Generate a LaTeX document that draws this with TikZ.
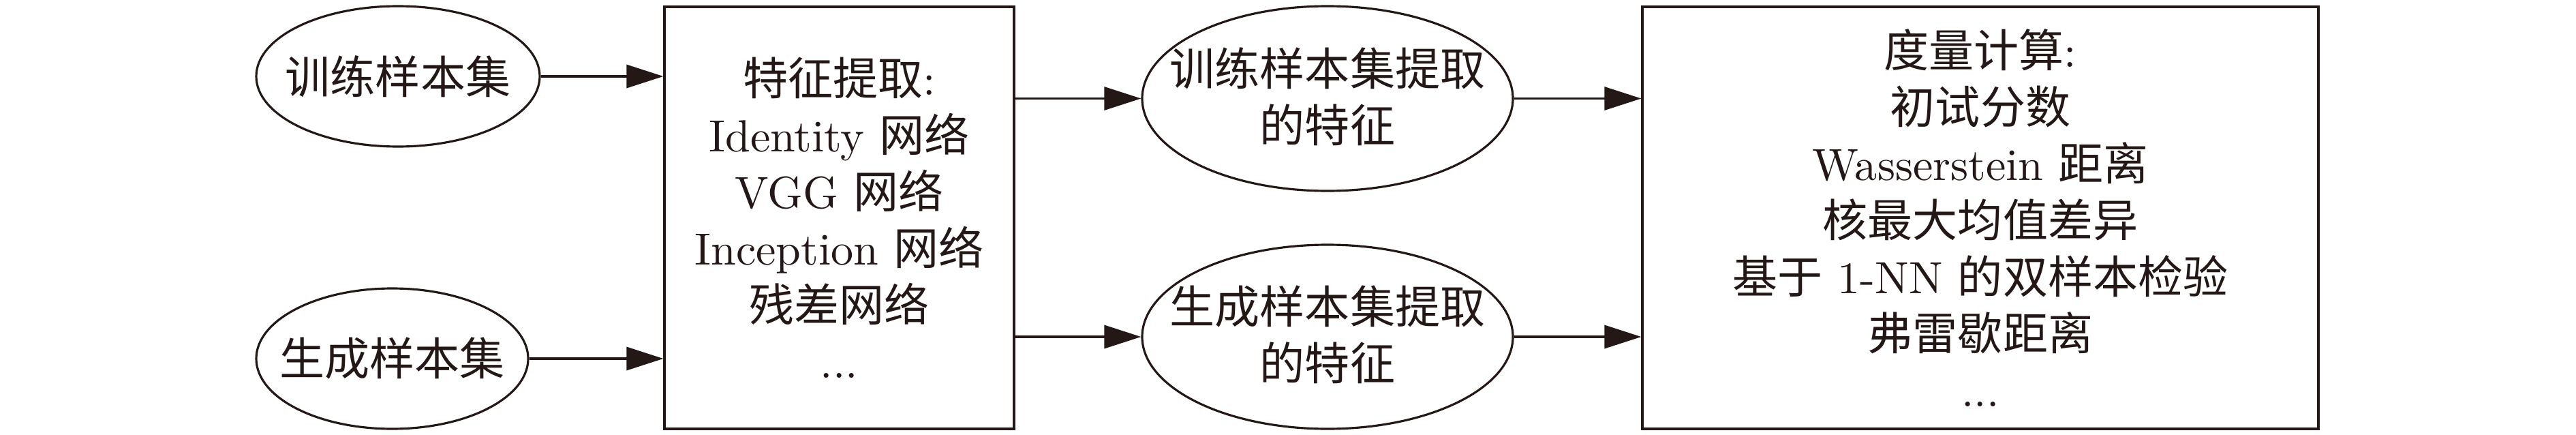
\documentclass[tikz,border=0pt]{standalone}
\usepackage{fontspec}
\setmainfont{lmroman10-regular}[Extension=.otf]
\newfontfamily\cjk{Noto Sans CJK SC}
\usetikzlibrary{shapes.geometric,arrows.meta}
\definecolor{ink}{RGB}{35,24,21}
\begin{document}
\begin{tikzpicture}[x=1cm,y=1cm,
  every node/.style={font=\fontsize{18.8pt}{23.6pt}\selectfont, text=ink},
  ell/.style={ellipse, draw=ink, line width=0.9pt, inner sep=0pt},
  boxn/.style={rectangle, draw=ink, line width=0.9pt, align=center, inner sep=0pt},
  lbl/.style={align=center, inner sep=0pt},
  arr/.style={draw=ink, line width=0.9pt, -{Triangle[length=0.54cm,width=0.34cm]}}
]
\useasboundingbox (0,0) rectangle (37.8,-6.38);
% nodes
\node[ell, minimum width=4.16cm, minimum height=2.06cm] (e1) at (5.84,-1.12) {};
\node[lbl] (e1t) at (e1.center) {\cjk 训练样本集};
\node[ell, minimum width=3.99cm, minimum height=2.06cm] (e2) at (5.755,-5.26) {};
\node[lbl] (e2t) at (e2.center) {\cjk 生成样本集};
\node[boxn, minimum width=5.13cm, minimum height=6.19cm] (b1) at (12.315,-3.195)
  {{\cjk 特征提取}:\\Identity {\cjk 网络}\\VGG {\cjk 网络}\\Inception {\cjk 网络}\\{\cjk 残差网络}\\...};
\node[ell, minimum width=5.44cm, minimum height=2.71cm] (e3) at (19.48,-1.445) {};
\node[lbl] (e3t) at (19.48,-1.415) {{\cjk 训练样本集提取}\\{\cjk 的特征}};
\node[ell, minimum width=5.44cm, minimum height=2.70cm] (e4) at (19.48,-4.94) {};
\node[lbl] (e4t) at (19.48,-4.91) {{\cjk 生成样本集提取}\\{\cjk 的特征}};
\node[boxn, minimum width=9.92cm, minimum height=6.19cm] (b2) at (29.06,-3.195)
  {{\cjk 度量计算}:\\{\cjk 初试分数}\\Wasserstein {\cjk 距离}\\{\cjk 核最大均值差异}\\{\cjk 基于} 1-NN {\cjk 的双样本检验}\\{\cjk 弗雷歇距离}\\...};
% connectors
\draw[arr] (e1.east) -- (e1.east -| b1.west);
\draw[arr] (e2.east) -- (e2.east -| b1.west);
\draw[arr] (e3.west -| b1.east) -- (e3.west);
\draw[arr] (e4.west -| b1.east) -- (e4.west);
\draw[arr] (e3.east) -- (e3.east -| b2.west);
\draw[arr] (e4.east) -- (e4.east -| b2.west);
\end{tikzpicture}
\end{document}
